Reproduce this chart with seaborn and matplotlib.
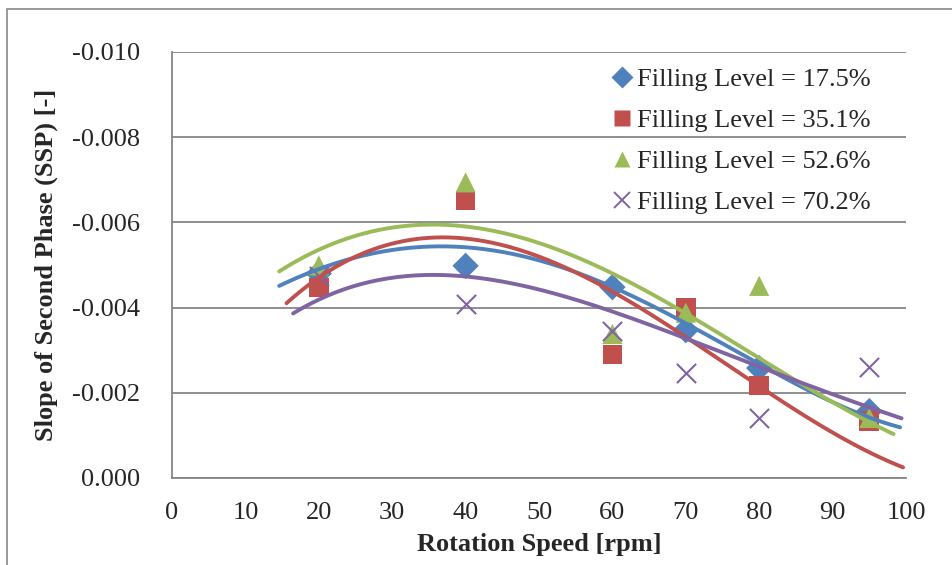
import numpy as np
import pandas as pd
import matplotlib
matplotlib.use("Agg")
import matplotlib.pyplot as plt
from matplotlib.patches import Rectangle
from matplotlib.lines import Line2D
from matplotlib.ticker import FormatStrFormatter, MultipleLocator
import seaborn as sns

# Rotation speeds [rpm]
speed = [20, 40, 60, 70, 80, 95]

# Slope of second phase for each filling level
ssp_175 = [-0.00480, -0.00498, -0.00448, -0.00347, -0.00258, -0.00157]
ssp_351 = [-0.00447, -0.00651, -0.00290, -0.00399, -0.00217, -0.00134]
ssp_526 = [-0.00499, -0.00694, -0.00338, -0.00388, -0.00451, -0.00141]
ssp_702 = [-0.00474, -0.00408, -0.00344, -0.00246, -0.00141, -0.00260]

# Trendline values (x in rpm, y in units of 1e-3)
trend_x_175 = [14.6, 19.7, 25.6, 34.7, 44.7, 52.9, 60, 70, 80, 95, 99.2]
trend_175 = [4.55, 4.88, 5.12, 5.39, 5.45, 5.00, 4.48, 3.47, 2.70, 1.60, 1.06]
trend_x_351 = [15.6, 19.7, 25.6, 34.7, 40, 44.7, 52.9, 60, 69.9, 80, 99.6]
trend_351 = [4.24, 4.53, 5.12, 5.63, 5.76, 5.63, 4.96, 4.19, 3.29, 2.26, 0.23]
trend_x_526 = [14.6, 19.7, 34.7, 40, 44.7, 52.9, 66.5, 69.9, 77.4, 95, 98.3]
trend_526 = [4.92, 5.23, 5.90, 5.98, 5.82, 5.35, 4.14, 3.83, 3.12, 1.44, 0.93]
trend_x_702 = [16.5, 19.7, 25.6, 34.7, 44.7, 52.9, 66.5, 69.9, 80, 99.4]
trend_702 = [3.87, 4.14, 4.57, 4.77, 4.57, 4.34, 3.51, 3.26, 2.62, 1.40]

labels = ["Filling Level = 17.5%", "Filling Level = 35.1%",
          "Filling Level = 52.6%", "Filling Level = 70.2%"]
series = [ssp_175, ssp_351, ssp_526, ssp_702]
trends = [(trend_x_175, trend_175), (trend_x_351, trend_351),
          (trend_x_526, trend_526), (trend_x_702, trend_702)]
colors = ["#4F81BD", "#C0504D", "#9BBB59", "#8064A2"]
markers = ["D", "s", "^", "x"]
marker_sizes = [180, 200, 210, 190]

sns.set_style("white")
plt.rcParams["font.family"] = ["Liberation Serif", "DejaVu Serif"]
plt.rcParams["axes.unicode_minus"] = False

fig = plt.figure(figsize=(9.52, 5.65), dpi=100)
ax = fig.add_axes([172 / 952, 1 - 478 / 565, (906 - 172) / 952, (478 - 52) / 565])

# outer chart border
fig.patches.append(Rectangle((7 / 952, -0.1), 1.2, 1.1 - 9 / 565,
                             transform=fig.transFigure, fill=False,
                             edgecolor="#878787", linewidth=1.2))

for ys, col, mk, ms in zip(series, colors, markers, marker_sizes):
    df = pd.DataFrame({"speed": speed, "ssp": ys})
    kw = dict(color=col, s=ms, marker=mk, zorder=3, ax=ax, legend=False)
    if mk == "x":
        kw.update(linewidth=1.5)
    else:
        kw.update(edgecolor="none")
    sns.scatterplot(data=df, x="speed", y="ssp", **kw)

# smooth polynomial trendlines
for (tx, ty), col in zip(trends, colors):
    coef = np.polyfit(tx, np.array(ty) * -1e-3, 4)
    xs = np.linspace(tx[0], tx[-1], 200)
    fit = pd.DataFrame({"speed": xs, "ssp": np.polyval(coef, xs)})
    sns.lineplot(data=fit, x="speed", y="ssp", color=col, linewidth=2.8,
                 ax=ax, zorder=4, legend=False)

ax.set_xlim(0, 100)
ax.set_ylim(0, -0.010)
ax.xaxis.set_major_locator(MultipleLocator(10))
ax.yaxis.set_major_locator(MultipleLocator(0.002))
ax.yaxis.set_major_formatter(FormatStrFormatter("%.3f"))

ax.grid(axis="y", color="#868686", linewidth=1.3)
ax.grid(axis="x", visible=False)
ax.set_axisbelow(True)
for side in ["top", "right"]:
    ax.spines[side].set_visible(False)
for side in ["left", "bottom"]:
    ax.spines[side].set_color("#868686")
    ax.spines[side].set_linewidth(1.3)

ax.tick_params(axis="x", direction="in", length=6, width=1.2, color="#868686",
               labelsize=19, pad=17.5)
ax.tick_params(axis="y", length=0, labelsize=19, pad=23)

ax.set_xlabel("Rotation Speed [rpm]", fontsize=19, fontweight="bold", labelpad=6)
ax.set_ylabel("Slope of Second Phase (SSP) [-]", fontsize=19, fontweight="bold",
              labelpad=10)

leg_handles = []
for col, mk, msz in zip(colors, markers, [11, 12, 12, 12]):
    if mk == "x":
        leg_handles.append(Line2D([], [], linestyle="none", marker=mk, color=col,
                                  markersize=msz, markeredgewidth=1.4))
    else:
        leg_handles.append(Line2D([], [], linestyle="none", marker=mk, color=col,
                                  markersize=msz, markeredgecolor="none"))
ax.legend(leg_handles, labels, loc="upper left",
          bbox_to_anchor=(613 / 952, 1 - 68 / 565),
          bbox_transform=fig.transFigure, frameon=False, fontsize=19,
          handlelength=0.7, handletextpad=0.2, labelspacing=0.66,
          borderpad=0, borderaxespad=0)

fig.savefig("out.png", dpi=100)
